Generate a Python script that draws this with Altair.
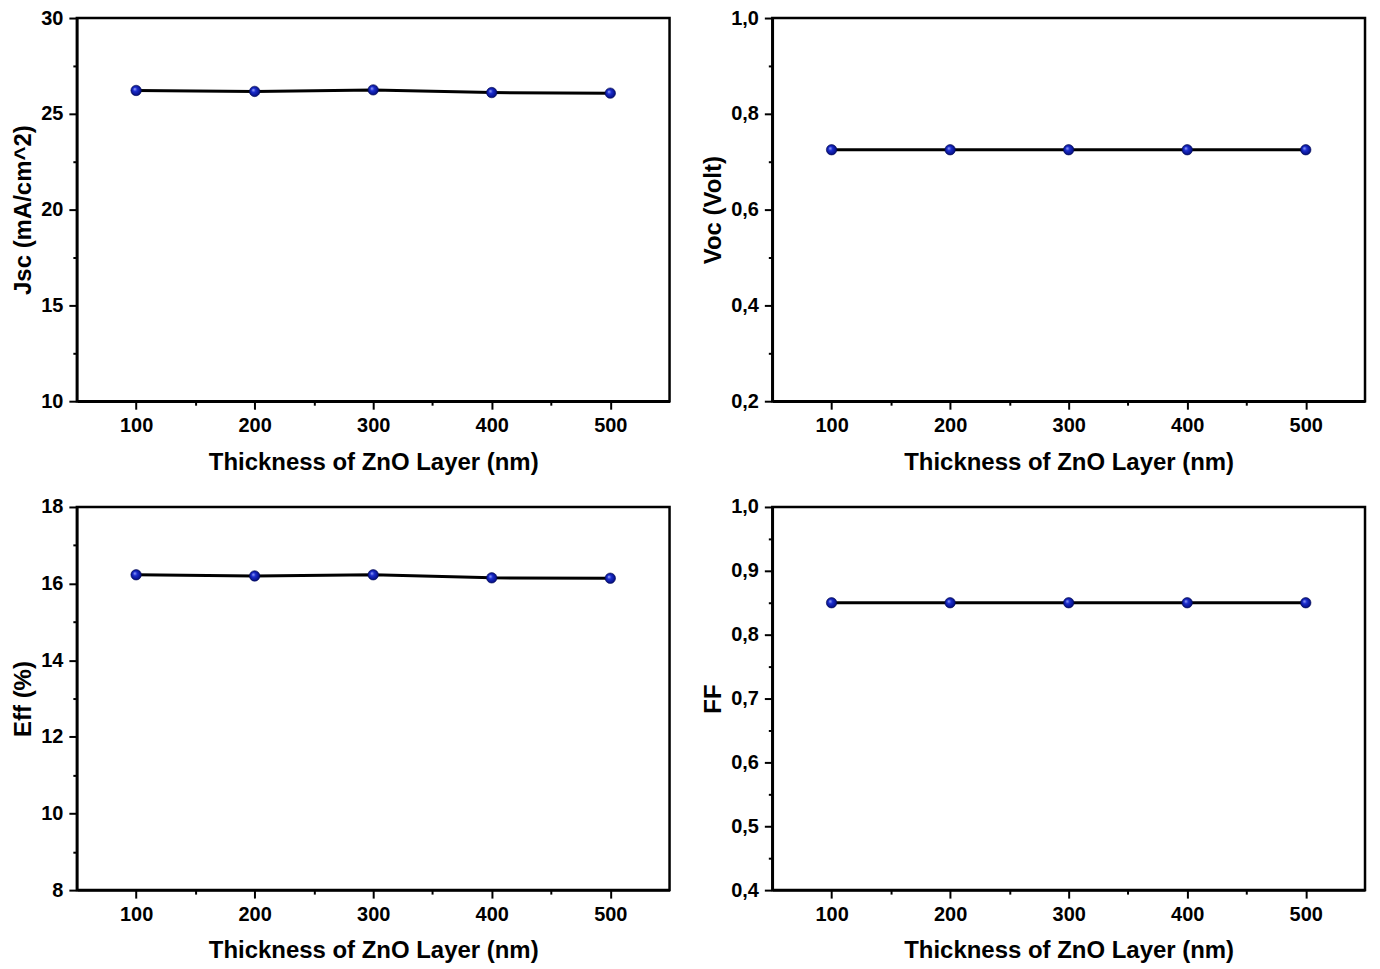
import altair as alt
import pandas as pd

# ---- data ----
thickness = [100, 200, 300, 400, 500]
jsc = [26.22, 26.17, 26.25, 26.11, 26.08]
voc = [0.725, 0.725, 0.725, 0.725, 0.725]
eff = [16.23, 16.20, 16.23, 16.15, 16.14]
ff = [0.85, 0.85, 0.85, 0.85, 0.85]

# ---- axis ticks (major + minor) ----
x_ticks = [100, 150, 200, 250, 300, 350, 400, 450, 500]
jsc_ticks = [10, 12.5, 15, 17.5, 20, 22.5, 25, 27.5, 30]
voc_ticks = [0.2, 0.3, 0.4, 0.5, 0.6, 0.7, 0.8, 0.9, 1.0]
eff_ticks = [8, 9, 10, 11, 12, 13, 14, 15, 16, 17, 18]
ff_ticks = [0.4, 0.45, 0.5, 0.55, 0.6, 0.65, 0.7, 0.75, 0.8, 0.85, 0.9, 0.95, 1.0]

df = pd.DataFrame({"thickness": thickness, "jsc": jsc, "voc": voc, "eff": eff, "ff": ff})

X_TITLE = "Thickness of ZnO Layer (nm)"
MAJ, MIN = 8, 4

sphere = alt.RadialGradient(
    gradient="radial",
    stops=[
        alt.GradientStop(offset=0, color="#aab4ff"),
        alt.GradientStop(offset=0.35, color="#1c2ed0"),
        alt.GradientStop(offset=1, color="#000870"),
    ],
    x1=0.35, y1=0.35, r1=0, x2=0.5, y2=0.5, r2=0.55,
)


def panel(field, title, domain, ticks, major_test, label_fmt, width):
    x = alt.X(
        "thickness:Q",
        scale=alt.Scale(domain=[50, 550], nice=False, zero=False),
        axis=alt.Axis(
            values=x_ticks,
            title=X_TITLE,
            labelExpr="datum.value % 100 == 0 ? format(datum.value, 'd') : ''",
            tickSize={"condition": {"test": "datum.value % 100 == 0", "value": MAJ}, "value": MIN},
            labelPadding=6,
            titlePadding=15,
            labelFlush=False,
        ),
    )
    y = alt.Y(
        f"{field}:Q",
        scale=alt.Scale(domain=domain, nice=False, zero=False),
        axis=alt.Axis(
            values=ticks,
            title=title,
            labelExpr=f"({major_test}) ? {label_fmt} : ''",
            tickSize={"condition": {"test": major_test, "value": MAJ}, "value": MIN},
            labelPadding=6,
            titlePadding=5,
        ),
    )
    base = alt.Chart(df)
    line = base.mark_line(color="black", strokeWidth=3).encode(x=x, y=y)
    pts = base.mark_point(filled=True, fill=sphere, size=110, opacity=1,
                          stroke="#000850", strokeWidth=0.6).encode(x=x, y=y)
    return alt.layer(line, pts).properties(width=width, height=384)


p1 = panel("jsc", "Jsc (mA/cm^2)", [10, 30], jsc_ticks,
           "datum.value % 5 == 0", "format(datum.value, 'd')", 594)
p2 = panel("voc", "Voc (Volt)", [0.2, 1.0], voc_ticks,
           "round(datum.value * 10) % 2 == 0",
           "replace(format(datum.value, '.1f'), '.', ',')", 594)
p3 = panel("eff", "Eff (%)", [8, 18], eff_ticks,
           "datum.value % 2 == 0", "format(datum.value, 'd')", 594)
p4 = panel("ff", "FF", [0.4, 1.0], ff_ticks,
           "round(datum.value * 100) % 10 == 0",
           "replace(format(datum.value, '.1f'), '.', ',')", 594)

chart = (
    alt.concat(p1, p2, p3, p4, columns=2, spacing={"row": 19, "column": 28})
    .properties(padding={"left": 2, "top": -3, "right": 5, "bottom": 5})
    .configure_view(stroke="black", strokeWidth=2.5)
    .configure_axis(
        grid=False,
        domainColor="black",
        domainWidth=2.5,
        tickColor="black",
        tickWidth=2,
        labelFont="Liberation Sans",
        labelFontWeight="bold",
        labelFontSize=20,
        labelColor="black",
        titleFont="Liberation Sans",
        titleFontWeight="bold",
        titleFontSize=24,
        titleColor="black",
    )
)

chart.save("out.html", embed_options={"renderer": "svg", "actions": False})
